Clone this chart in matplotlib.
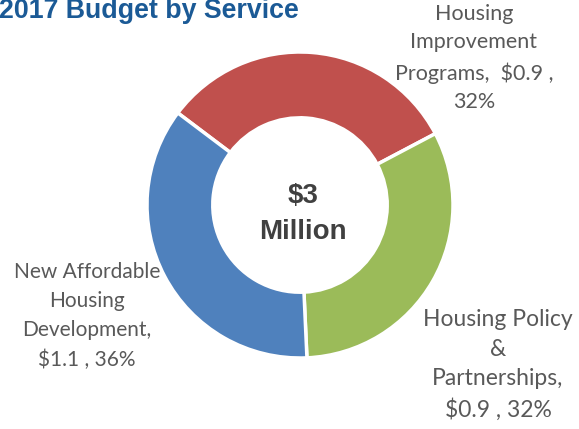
import matplotlib
matplotlib.use("Agg")
import matplotlib.pyplot as plt

# budget shares (percent) and label text
services = ["Housing Improvement Programs", "Housing Policy & Partnerships", "New Affordable Housing Development"]
shares = [32, 32, 36]
colors = ["#C0504D", "#9BBB59", "#4F81BD"]
labels = [
    "Housing\nImprovement\nPrograms,  $0.9 ,\n32%",
    "Housing Policy\n&\nPartnerships,\n$0.9 , 32%",
    "New Affordable\nHousing\nDevelopment,\n$1.1 , 36%",
]
total_label = "$3\nMillion"
title = "2017 Budget by Service"

W, H = 579, 429
fig = plt.figure(figsize=(W / 100, H / 100), dpi=100)
ax = fig.add_axes([0, 0, 1, 1])

cx, cy, r = 300, H - 205, 153
ax.pie(shares, colors=colors, startangle=143, counterclock=False,
       center=(cx, cy), radius=r, frame=True,
       wedgeprops=dict(width=r * 0.43, edgecolor="white", linewidth=2.5))
ax.set_xlim(0, W)
ax.set_ylim(0, H)
ax.set_aspect("equal")
ax.axis("off")

ax.text(cx + 3, cy - 9, total_label, ha="center", va="center", fontsize=20,
        fontweight="bold", color="#404040", family="Liberation Sans", linespacing=1.5)

lab_font = "Lato"
grey = "#595959"
ax.text(474, H - 58, labels[0], ha="center", va="center", fontsize=15.5,
        color=grey, family=lab_font, linespacing=1.55)
ax.text(498, H - 365, labels[1], ha="center", va="center", fontsize=16.5,
        color=grey, family=lab_font, linespacing=1.5)
ax.text(87, H - 316, labels[2], ha="center", va="center", fontsize=15,
        color=grey, family=lab_font, linespacing=1.58)

ax.text(-1, H - 18, title, ha="left", va="baseline", fontsize=19.3,
        fontweight="bold", color="#1B5A96", family="Liberation Sans")

fig.savefig("out.png", dpi=100)
